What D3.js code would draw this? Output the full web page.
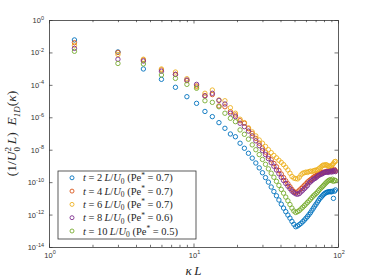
<!DOCTYPE html>
<html>
<head>
<meta charset="utf-8">
<script src="https://cdn.jsdelivr.net/npm/d3@7"></script>
<style>
html, body { margin: 0; padding: 0; background: #fff; }
</style>
</head>
<body>
<script>
// wavenumbers kappa*L of the spectrum bins
const kappaL = [1.5, 3, 4.5, 6, 7.5, 9, 10.5, 12, 13.5, 15, 16.5, 18, 19.5, 21, 22.5, 24,
    25.5, 27, 28.5, 30, 31.5, 33, 34.5, 36, 37.5, 39, 40.5, 42, 43.5, 45, 46.5, 48,
    49.5, 51, 52.5, 54, 55.5, 57, 58.5, 60, 61.5, 63, 64.5, 66, 67.5, 69, 70.5, 72,
    73.5, 75, 76.5, 78, 79.5, 81, 82.5, 84, 85.5, 87, 88.5, 90, 91.5, 93, 94.5, 96];

// log10 of (1/U0^2 L) E_1D for each time
const logE_t2 = [-1.23, -1.97, -3.02, -3.66, -4.15, -4.73, -5.14, -5.64, -5.96, -6.33,
    -6.68, -7.03, -7.20, -7.60, -7.91, -8.22, -8.52, -8.82, -9.12, -9.42,
    -9.72, -10.00, -10.30, -10.58, -10.84, -11.10, -11.36, -11.60, -11.82, -12.03,
    -12.22, -12.42, -12.60, -12.75, -12.70, -12.62, -12.54, -12.44, -12.34, -12.23,
    -12.12, -12.00, -11.88, -11.74, -11.61, -11.48, -11.36, -11.24, -11.12, -11.00,
    -10.92, -10.84, -10.76, -10.70, -10.65, -10.62, -10.60, -10.59, -10.58, -10.60,
    -10.56, -11.00, -10.56, -10.48];
const logE_t4 = [-1.40, -2.00, -2.47, -3.08, -3.36, -3.74, -4.07, -4.66, -4.60, -5.30,
    -5.35, -5.65, -5.86, -6.21, -6.37, -6.70, -7.00, -7.30, -7.60, -7.90,
    -8.15, -8.40, -8.62, -8.85, -9.05, -9.28, -9.50, -9.72, -9.92, -10.10,
    -10.28, -10.45, -10.58, -10.65, -10.60, -10.50, -10.40, -10.30, -10.20, -10.10,
    -10.00, -9.92, -9.85, -9.78, -9.70, -9.65, -9.60, -9.55, -9.50, -9.47,
    -9.44, -9.40, -9.38, -9.40, -9.35, -9.32, -9.36, -9.30, -9.28, -9.33,
    -9.25, -9.30, -9.22, -9.30];
const logE_t6 = [-1.56, -2.13, -2.42, -3.02, -3.21, -3.62, -4.13, -4.52, -4.32, -4.93,
    -4.98, -5.41, -5.75, -6.12, -6.33, -6.65, -6.90, -7.15, -7.40, -7.60,
    -7.80, -8.00, -8.18, -8.35, -8.50, -8.65, -8.78, -8.92, -9.08, -9.25,
    -9.45, -9.65, -9.75, -9.78, -9.80, -9.70, -9.55, -9.45, -9.42, -9.38,
    -9.40, -9.35, -9.32, -9.35, -9.30, -9.28, -9.25, -9.25, -9.18, -9.12,
    -9.05, -8.98, -8.94, -8.96, -8.92, -8.95, -9.00, -9.02, -9.05, -8.98,
    -8.92, -8.85, -8.75, -8.72];
const logE_t8 = [-1.75, -2.42, -2.53, -3.16, -3.35, -3.70, -3.97, -4.69, -4.52, -4.96,
    -5.18, -5.75, -5.96, -6.37, -6.58, -6.85, -7.15, -7.45, -7.75, -8.05,
    -8.30, -8.55, -8.80, -9.02, -9.25, -9.48, -9.70, -9.90, -10.08, -10.25,
    -10.40, -10.55, -10.65, -10.72, -10.75, -10.70, -10.60, -10.50, -10.40, -10.30,
    -10.20, -10.05, -9.98, -9.90, -9.82, -9.78, -9.72, -9.65, -9.58, -9.55,
    -9.50, -9.48, -9.42, -9.40, -9.38, -9.36, -9.40, -9.35, -9.32, -9.38,
    -9.30, -9.35, -9.28, -9.35];
const logE_t10 = [-1.93, -2.68, -2.71, -3.39, -3.60, -3.97, -4.21, -4.98, -5.08, -5.35,
    -5.75, -6.06, -6.27, -6.78, -7.05, -7.35, -7.70, -8.00, -8.30, -8.60,
    -8.90, -9.18, -9.45, -9.70, -9.95, -10.20, -10.45, -10.68, -10.92, -11.15,
    -11.38, -11.60, -11.78, -11.87, -11.82, -11.75, -11.65, -11.55, -11.45, -11.35,
    -11.25, -11.15, -11.05, -10.95, -10.85, -10.78, -10.70, -10.62, -10.52, -10.43,
    -10.35, -10.28, -10.20, -10.12, -10.05, -9.98, -9.92, -9.88, -9.85, -9.90,
    -9.82, -9.95, -9.88, -9.90];

const times = ["2", "4", "6", "8", "10"];
const peclet = ["0.7", "0.7", "0.7", "0.6", "0.5"];
const colors = ["#0072BD", "#D95319", "#EDB120", "#7E2F8E", "#77AC30"];
const allSeries = [logE_t2, logE_t4, logE_t6, logE_t8, logE_t10];

const yTickExps = [-14, -12, -10, -8, -6, -4, -2, 0];
const xTickExps = [0, 1, 2];

const W = 374, H = 280;
const margin = {left: 49, top: 20, right: 36, bottom: 33};
const axisColor = "#333";

const svg = d3.select("body").append("svg")
    .attr("width", W)
    .attr("height", H)
    .style("display", "block");

const x = d3.scaleLog().domain([1, 100]).range([margin.left, W - margin.right]);
const y = d3.scaleLog().domain([1e-14, 1]).range([H - margin.bottom, margin.top]);

// minor ticks 1..9 in each decade
const xTickVals = [];
[1, 10].forEach(d => d3.range(1, 10).forEach(m => xTickVals.push(m * d)));
xTickVals.push(100);
const isMajor = v => Math.abs(Math.log10(v) - Math.round(Math.log10(v))) < 1e-9;

function styleAxis(g) {
    g.selectAll("path").attr("stroke", axisColor).attr("stroke-width", 0.8);
    g.selectAll("line").attr("stroke", axisColor).attr("stroke-width", 0.7);
    g.selectAll("text").remove();
}

// bottom and top x axes, ticks pointing inward
[[d3.axisBottom(x), y.range()[0], -1], [d3.axisTop(x), y.range()[1], 1]].forEach(([gen, ty, dir]) => {
    const g = svg.append("g").attr("transform", `translate(0,${ty})`)
        .call(gen.tickValues(xTickVals).tickFormat("").tickSizeOuter(0));
    g.selectAll(".tick line").attr("y2", d => dir * (isMajor(d) ? 3.5 : 2.2));
    styleAxis(g);
});

const yVals = yTickExps.map(e => Math.pow(10, e));
svg.append("g").attr("transform", `translate(${x.range()[0]},0)`)
    .call(d3.axisLeft(y).tickValues(yVals).tickFormat("").tickSizeOuter(0).tickSizeInner(-3.5))
    .call(styleAxis);
svg.append("g").attr("transform", `translate(${x.range()[1]},0)`)
    .call(d3.axisRight(y).tickValues(yVals).tickFormat("").tickSizeOuter(0).tickSizeInner(-3.5))
    .call(styleAxis);

// tick labels with superscript exponents
const tickFont = "'Liberation Sans', Arial, sans-serif";
yTickExps.forEach(e => {
    const t = svg.append("text")
        .attr("x", margin.left - 5)
        .attr("y", y(Math.pow(10, e)) + 3)
        .attr("text-anchor", "end")
        .attr("font-family", tickFont)
        .attr("font-size", 7.5)
        .attr("fill", "#333");
    t.append("tspan").text("10");
    t.append("tspan").attr("dy", -3.5).attr("font-size", 5.5).text(e < 0 ? "-" + (-e) : e);
});
xTickExps.forEach(e => {
    const t = svg.append("text")
        .attr("x", x(Math.pow(10, e)) + 1)
        .attr("y", y.range()[0] + 10.5)
        .attr("text-anchor", "middle")
        .attr("font-family", tickFont)
        .attr("font-size", 7.5)
        .attr("fill", "#333");
    t.append("tspan").text("10");
    t.append("tspan").attr("dy", -3.5).attr("font-size", 5.5).text(e);
});

// axis titles
const serif = "'Liberation Serif', 'DejaVu Serif', serif";
const xl = svg.append("text")
    .attr("x", (x.range()[0] + x.range()[1]) / 2)
    .attr("y", 275)
    .attr("text-anchor", "middle")
    .attr("font-family", serif)
    .attr("font-size", 13)
    .attr("fill", "#262626");
xl.append("tspan").attr("font-style", "italic").text("κ");
xl.append("tspan").attr("font-style", "italic").text("\u2009L");

const yl = svg.append("text")
    .attr("transform", `translate(16,${(y.range()[0] + y.range()[1]) / 2}) rotate(-90)`)
    .attr("text-anchor", "middle")
    .attr("font-family", serif)
    .attr("font-size", 13.5)
    .attr("fill", "#262626");
yl.append("tspan").text("(1/");
yl.append("tspan").attr("font-style", "italic").text("U");
yl.append("tspan").attr("font-size", 9).attr("dy", -5).text("2");
yl.append("tspan").attr("font-size", 9).attr("dx", -4.5).attr("dy", 8.5).text("0");
yl.append("tspan").attr("font-style", "italic").attr("dy", -3.5).text("\u2009L");
yl.append("tspan").text(")\u2002");
yl.append("tspan").attr("font-style", "italic").text("E");
yl.append("tspan").attr("font-size", 9).attr("font-style", "italic").attr("dy", 3.5).text("1D");
yl.append("tspan").attr("dy", -3.5).text("(");
yl.append("tspan").attr("font-style", "italic").text("κ");
yl.append("tspan").text(")");

// data markers
allSeries.forEach((s, i) => {
    svg.append("g")
        .selectAll("circle")
        .data(s.map((v, j) => ({k: kappaL[j], e: Math.pow(10, v)})))
        .join("circle")
        .attr("cx", d => x(d.k))
        .attr("cy", d => y(d.e))
        .attr("r", 2.2)
        .attr("fill", "none")
        .attr("stroke", colors[i])
        .attr("stroke-width", 0.9);
});

// legend
const lg = svg.append("g");
lg.append("rect")
    .attr("x", 58).attr("y", 171)
    .attr("width", 138).attr("height", 68)
    .attr("fill", "#fff")
    .attr("stroke", axisColor)
    .attr("stroke-width", 0.8);
times.forEach((t, i) => {
    const cy = 177.8 + i * 13.3;
    lg.append("circle")
        .attr("cx", 72).attr("cy", cy).attr("r", 2)
        .attr("fill", "none").attr("stroke", colors[i]).attr("stroke-width", 0.9);
    const tx = lg.append("text")
        .attr("x", 83).attr("y", cy + 3.5)
        .attr("font-family", serif)
        .attr("font-size", 10.5)
        .attr("fill", "#262626");
    tx.append("tspan").attr("font-style", "italic").text("t");
    tx.append("tspan").text(" = " + t + "\u2009");
    tx.append("tspan").attr("font-style", "italic").text("L");
    tx.append("tspan").text("/");
    tx.append("tspan").attr("font-style", "italic").text("U");
    tx.append("tspan").attr("font-size", 7.5).attr("dy", 2.5).text("0");
    tx.append("tspan").attr("dy", -2.5).text(" (Pe");
    tx.append("tspan").attr("font-size", 7.5).attr("dy", -3.5).text("*");
    tx.append("tspan").attr("dy", 3.5).text(" = " + peclet[i] + ")");
});
</script>
</body>
</html>
